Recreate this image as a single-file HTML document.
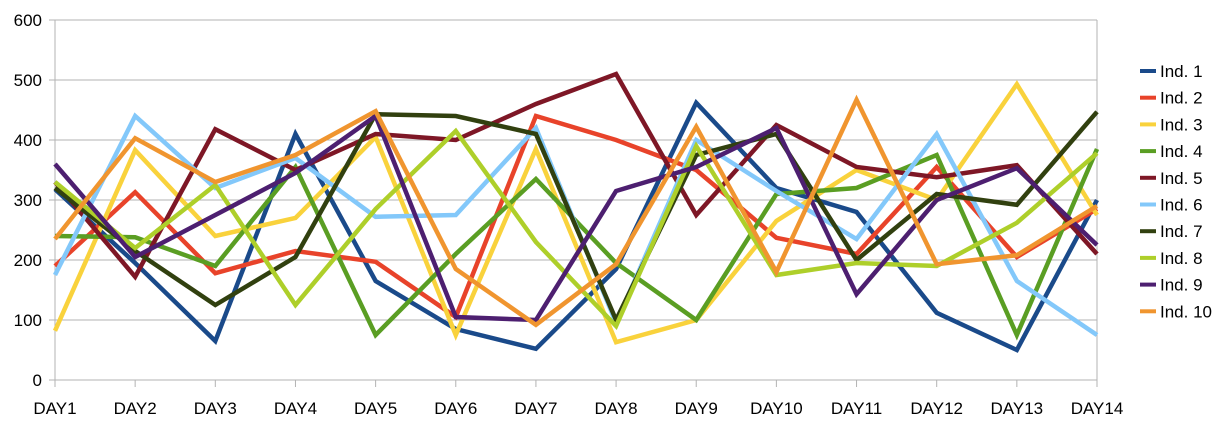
<!DOCTYPE html>
<html><head><meta charset="utf-8"><style>
body{margin:0;background:#fff;}
svg text{font-family:"Liberation Sans",sans-serif;font-size:17px;fill:#000;}
</style></head><body>
<svg id="chart" width="1228" height="427" xmlns="http://www.w3.org/2000/svg"></svg>
<script>
const categories=["DAY1","DAY2","DAY3","DAY4","DAY5","DAY6","DAY7","DAY8","DAY9","DAY10","DAY11","DAY12","DAY13","DAY14"];
const yTicks=[0,100,200,300,400,500,600];
const seriesNames=["Ind. 1","Ind. 2","Ind. 3","Ind. 4","Ind. 5","Ind. 6","Ind. 7","Ind. 8","Ind. 9","Ind. 10"];
const colors=["#1a4a8a","#e8432a","#f9d23c","#5a9e23","#7e1726","#83c8fa","#31400f","#aecf2a","#4d1f70","#f0952f"];
const ind1=[318,195,65,410,165,85,52,185,462,320,280,112,50,300];
const ind2=[190,313,178,215,197,105,440,400,350,237,210,355,205,285];
const ind3=[82,383,240,270,405,75,385,63,100,265,350,300,493,275];
const ind4=[240,238,190,355,75,210,335,195,100,310,320,375,75,385];
const ind5=[330,172,418,350,410,400,460,510,275,425,355,338,358,210];
const ind6=[175,440,320,370,272,275,420,95,400,315,235,410,165,75];
const ind7=[320,215,125,205,443,440,410,100,375,410,200,310,292,447];
const ind8=[330,220,325,125,285,415,230,90,390,175,195,190,262,378];
const ind9=[360,205,275,345,440,105,100,315,355,420,143,300,353,225];
const ind10=[235,403,330,375,448,185,92,193,422,180,467,193,208,290];
const series=[ind1,ind2,ind3,ind4,ind5,ind6,ind7,ind8,ind9,ind10];

const svg=document.getElementById('chart');
const NS='http://www.w3.org/2000/svg';
const X0=55,X1=1097,Y0=380,Y1=20,VMAX=600;
const xPos=i=>X0+i*(X1-X0)/(categories.length-1);
const yPos=v=>Y0-(v/VMAX)*(Y0-Y1);
function mk(tag,attrs){const e=document.createElementNS(NS,tag);for(const k in attrs)e.setAttribute(k,attrs[k]);svg.appendChild(e);return e;}

yTicks.forEach(t=>{
  const g=mk('line',{x1:X0,x2:X1,y1:yPos(t),y2:yPos(t),stroke:'#b3b3b3','stroke-width':1});
  
  
  const tk=mk('line',{x1:X0-6,x2:X0,y1:yPos(t),y2:yPos(t),stroke:'#b3b3b3'});
  
  
  const tx=mk('text',{x:X0-13,y:yPos(t)+6,'text-anchor':'end'});
  tx.textContent=t;
  
  
});
const ax=mk('line',{x1:X0,x2:X0,y1:Y1,y2:Y0+6,stroke:'#b3b3b3'});


const ax2=mk('line',{x1:X1,x2:X1,y1:Y1,y2:Y0+6,stroke:'#b3b3b3'});


categories.forEach((c,i)=>{
  const tk=mk('line',{x1:xPos(i),x2:xPos(i),y1:Y0,y2:Y0+7,stroke:'#b3b3b3'});
  
  
  const tx=mk('text',{x:xPos(i),y:414,'text-anchor':'middle'});
  tx.textContent=c;
  
  
});
series.forEach((s,k)=>{
  const p=mk('polyline',{points:s.map((v,i)=>xPos(i)+','+yPos(v)).join(' '),fill:'none',stroke:colors[k],'stroke-width':4.5,'stroke-linejoin':'miter'});
  
  
});
seriesNames.forEach((n,k)=>{
  const y=71+k*26.7;
  const l=mk('line',{x1:1140,x2:1156,y1:y,y2:y,stroke:colors[k],'stroke-width':4});
  
  
  const t=mk('text',{x:1160,y:y+6});
  t.textContent=n;
  
  
});
</script>
</body></html>
